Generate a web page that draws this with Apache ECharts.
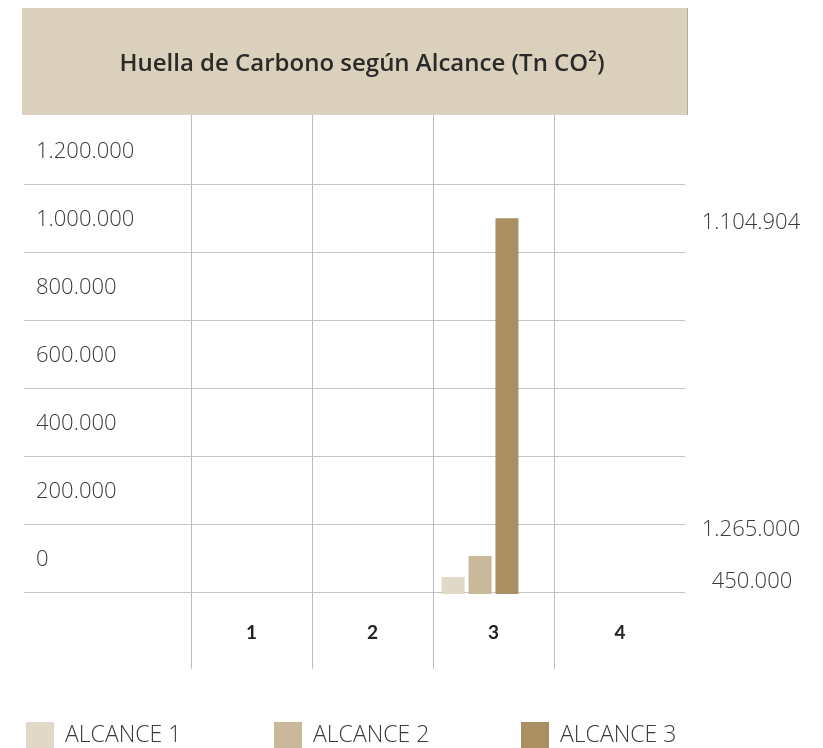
<!DOCTYPE html>
<html>
<head>
<meta charset="utf-8">
<script src="https://cdn.jsdelivr.net/npm/echarts@6/dist/echarts.min.js"></script>
<style>
html,body{margin:0;padding:0;background:#fff;}
#main{width:823px;height:748px;}
</style>
</head>
<body>
<div id="main"></div>
<script>
const title = 'Huella de Carbono según Alcance (Tn CO²)';
const categories = ['1', '2', '3', '4'];
const seriesNames = ['ALCANCE 1', 'ALCANCE 2', 'ALCANCE 3'];
const alcance1 = [null, null, 50000, null];
const alcance2 = [null, null, 112000, null];
const alcance3 = [null, null, 1104904, null];
const placeholder = [null, null, null, null];
const yTicks = [0, 200000, 400000, 600000, 800000, 1000000, 1200000, 1400000];
const sideNotes = ['1.104.904', '1.265.000', '450.000'];

const colors = ['#e0d9c7', '#c9b99a', '#a98f62'];
const fmt = v => String(v).replace(/\B(?=(\d{3})+(?!\d))/g, '.');

const chart = echarts.init(document.getElementById('main'));
const lightFont = 'Open Sans';
const catFont = { fontFamily: 'Lato', fontWeight: 'bold', fontSize: 19, color: '#222' };

const option = {
  animation: false,
  backgroundColor: '#ffffff',
  grid: [
    { left: 24, right: 823 - 685, top: 116, bottom: 748 - 592 },
    { left: 191, right: 823 - 675, top: 101, bottom: 79.2 }
  ],
  xAxis: [
    { gridIndex: 0, type: 'value', show: false, min: 0, max: 1 },
    {
      gridIndex: 1, type: 'category', data: categories,
      axisLine: { show: false }, axisTick: { show: false },
      splitLine: { show: true, showMaxLine: false, lineStyle: { color: '#bdbdbd', width: 1 } },
      axisLabel: Object.assign({
        inside: true, margin: 36, verticalAlign: 'middle',
        formatter: (v, i) => i === categories.length - 1 ? '{s|' + v + '}' : v,
        rich: { s: Object.assign({ padding: [0, 0, 0, 11] }, catFont) }
      }, catFont)
    }
  ],
  yAxis: [
    {
      gridIndex: 0, type: 'value', min: yTicks[0], max: yTicks[yTicks.length - 1], interval: 200000,
      axisLine: { show: false }, axisTick: { show: false },
      splitLine: { show: true, showMaxLine: false, lineStyle: { color: '#c4c4c4', width: 1 } },
      axisLabel: {
        inside: true, margin: 12, showMaxLabel: false, showMinLabel: true,
        verticalAlign: 'bottom', lineHeight: 64,
        fontFamily: lightFont, fontWeight: 300, fontSize: 22, color: '#3a3a3a',
        formatter: v => fmt(v)
      }
    },
    {
      gridIndex: 1, type: 'value', min: -220000, max: 1450000, show: false,
      splitLine: { show: false }
    }
  ],
  legend: seriesNames.map((n, i) => ({
    data: [n],
    left: [26, 274, 521][i],
    top: 722,
    padding: 0,
    itemWidth: 28, itemHeight: 27,
    icon: 'rect',
    selectedMode: false,
    textStyle: { fontFamily: lightFont, fontWeight: 300, fontSize: 23, color: '#3a3a3a', padding: [2, 0, 0, 6] }
  })),
  series: [
    ...[alcance1, alcance2, alcance3].map((d, i) => ({
      name: seriesNames[i], type: 'bar', xAxisIndex: 1, yAxisIndex: 1,
      data: d, barWidth: 23, barGap: '17%',
      itemStyle: { color: colors[i] }
    })),
    { name: '', type: 'bar', xAxisIndex: 1, yAxisIndex: 1, data: placeholder, barWidth: 23, barGap: '17%' }
  ],
  graphic: [
    { type: 'rect', z: 100, shape: { x: 22, y: 8, width: 666, height: 107 }, style: { fill: '#dad0bb' } },
    { type: 'line', z: 101, shape: { x1: 687.5, y1: 8, x2: 687.5, y2: 115 }, style: { stroke: '#b3ab9a', lineWidth: 1 } },
    { type: 'text', z: 102, x: 362, y: 64, style: { text: title, fill: '#2a2a2a', font: '600 24px "Open Sans"', textAlign: 'center', textVerticalAlign: 'middle' } },
    { type: 'text', z: 102, x: 751, y: 223, style: { text: sideNotes[0], fill: '#3a3a3a', font: '300 22px "Open Sans"', textAlign: 'center', textVerticalAlign: 'middle' } },
    { type: 'text', z: 102, x: 751, y: 530, style: { text: sideNotes[1], fill: '#3a3a3a', font: '300 22px "Open Sans"', textAlign: 'center', textVerticalAlign: 'middle' } },
    { type: 'text', z: 102, x: 752, y: 582, style: { text: sideNotes[2], fill: '#3a3a3a', font: '300 22px "Open Sans"', textAlign: 'center', textVerticalAlign: 'middle' } }
  ]
};
chart.setOption(option);
</script>
</body>
</html>
